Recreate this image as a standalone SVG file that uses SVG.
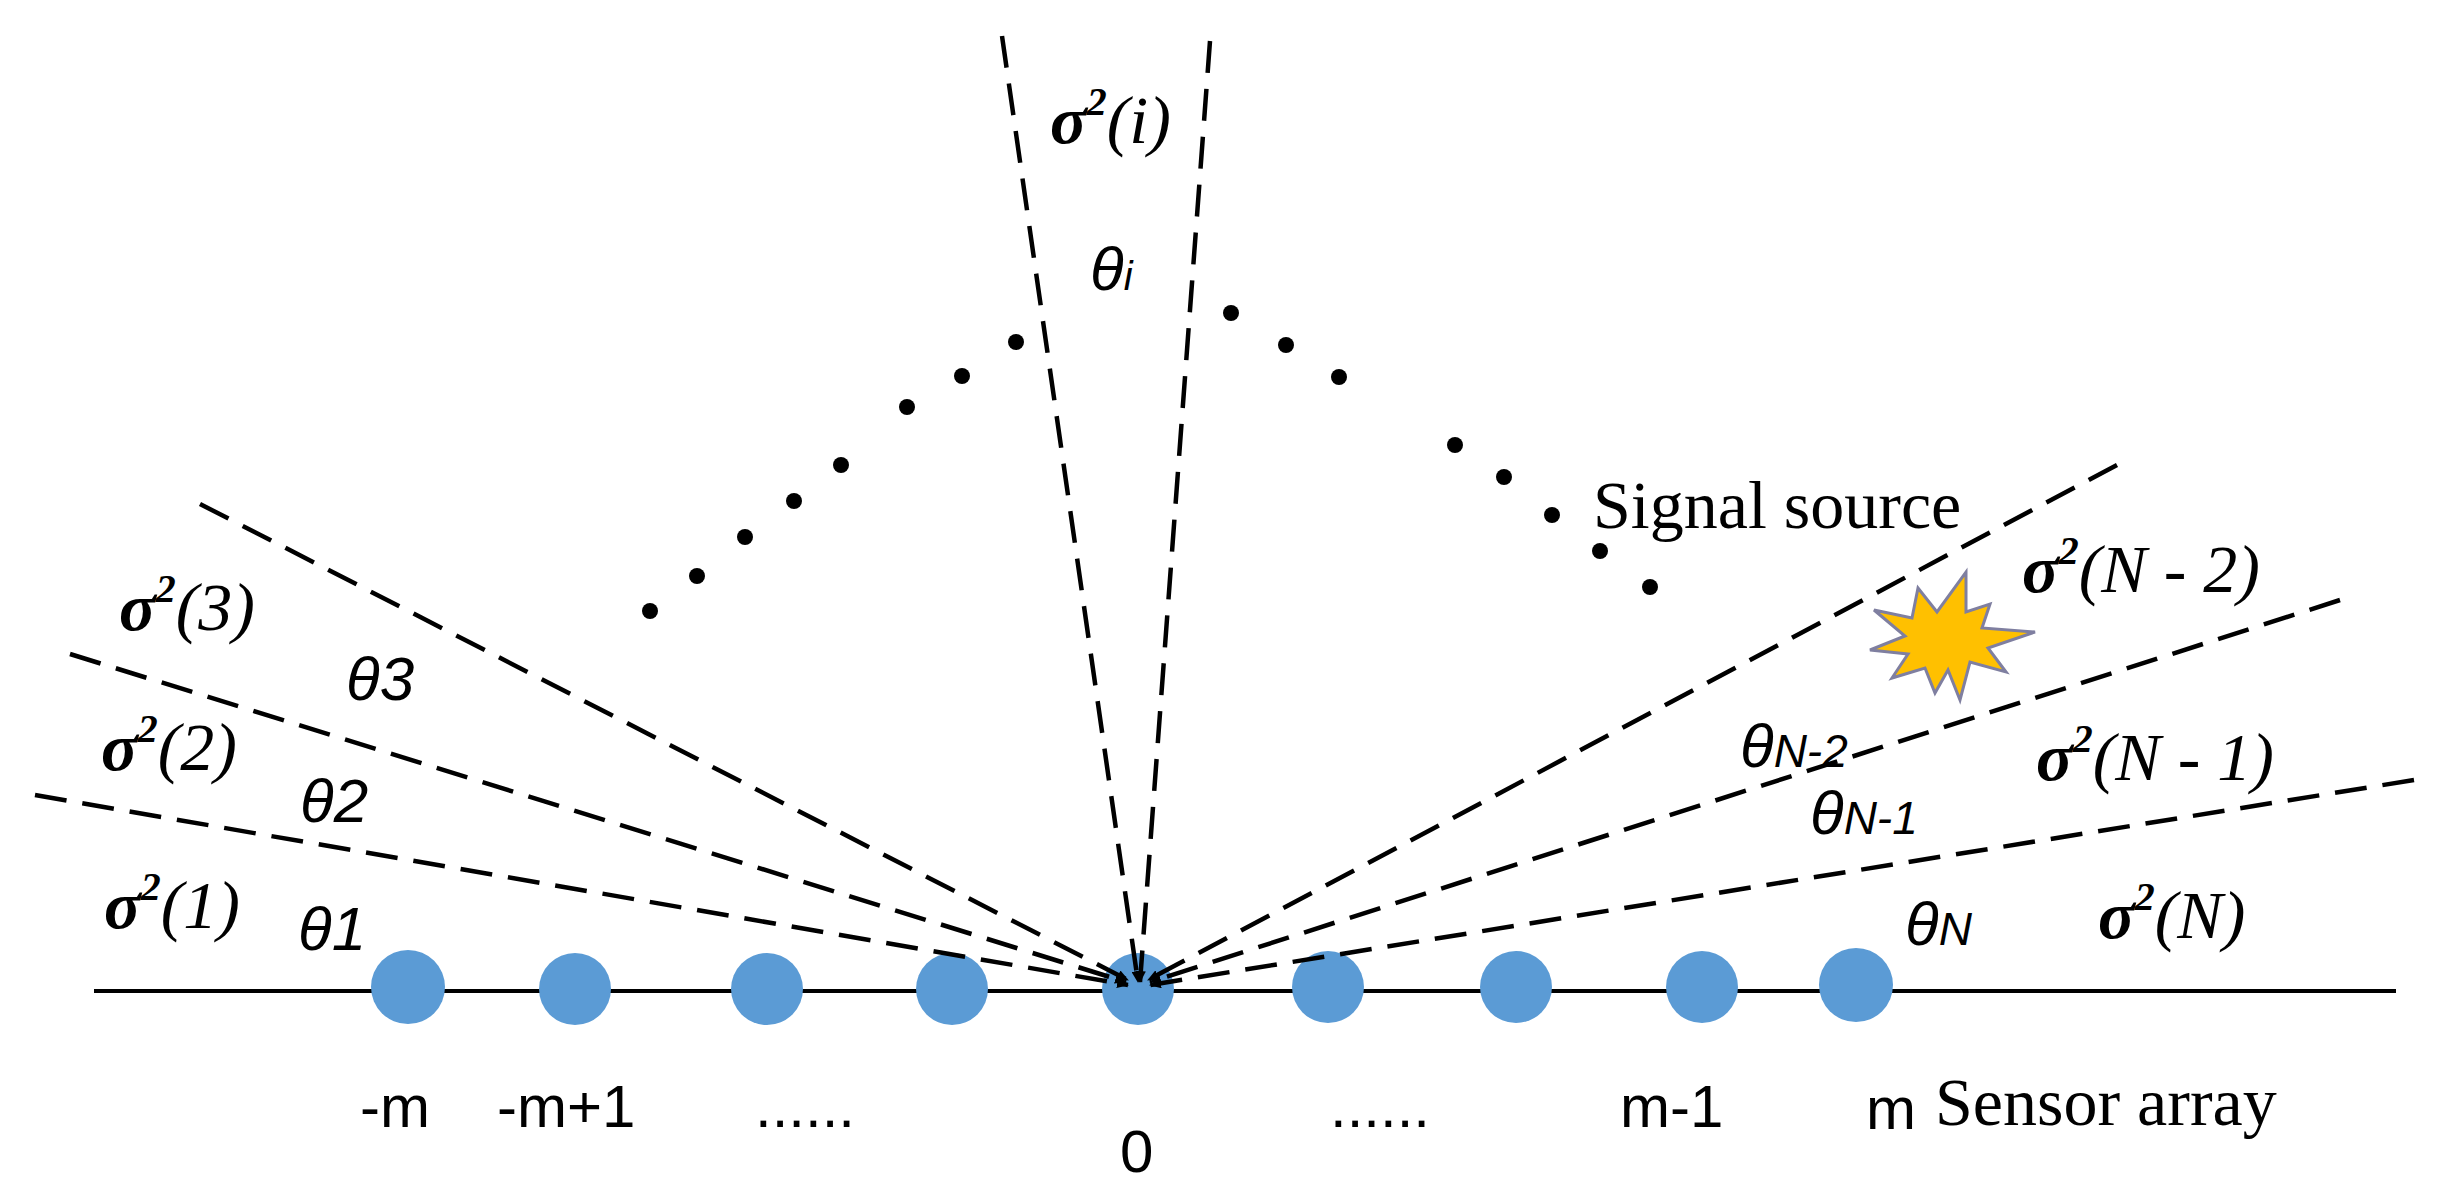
<svg xmlns="http://www.w3.org/2000/svg" width="2456" height="1183" viewBox="0 0 2456 1183">
<style>
.d{stroke:#000;stroke-width:4.5;stroke-dasharray:32 16;fill:none}
.s{font-family:"Liberation Serif",serif;font-size:68px;font-style:italic}
.sg{font-weight:bold}
.t{font-family:"Liberation Sans",sans-serif;font-size:62px;font-style:italic}
.l{font-family:"Liberation Sans",sans-serif;font-size:60px}
.r{font-family:"Liberation Serif",serif;font-size:68px}
</style>
<defs>
<marker id="a" markerWidth="12" markerHeight="10" refX="11" refY="5" orient="auto" markerUnits="userSpaceOnUse" viewBox="0 0 12 10"><path d="M0,0 L12,5 L0,10 z" fill="#000"/></marker>
</defs>
<rect width="2456" height="1183" fill="#fff"/>
<line x1="94" y1="991" x2="2396" y2="991" stroke="#000" stroke-width="4"/>
<g id="sensors" fill="#5B9BD5">
<ellipse cx="408" cy="987" rx="37" ry="37"/><ellipse cx="575" cy="989" rx="36" ry="36"/><ellipse cx="767" cy="989" rx="36" ry="36"/><ellipse cx="952" cy="989" rx="36" ry="36"/><ellipse cx="1138" cy="989" rx="36" ry="36"/><ellipse cx="1328" cy="987" rx="36" ry="36"/><ellipse cx="1516" cy="987" rx="36" ry="36"/><ellipse cx="1702" cy="987" rx="36" ry="36"/><ellipse cx="1856" cy="985" rx="37" ry="37"/>
</g>
<g id="connectors">
<path class="d" d="M35,795 L1128,985" marker-end="url(#a)"/>
<path class="d" d="M70,654 L1126,982" marker-end="url(#a)"/>
<path class="d" d="M200,504 L1128,980" marker-end="url(#a)"/>
<path class="d" d="M1002,36 L1138,982" marker-end="url(#a)"/>
<path class="d" d="M1210,41 L1140,982" marker-end="url(#a)"/>
<path class="d" d="M2117,465 L1148,980" marker-end="url(#a)"/>
<path class="d" d="M2340,600 L1150,982" marker-end="url(#a)"/>
<path class="d" d="M2414,780 L1150,985" marker-end="url(#a)"/>
</g>
<g id="dots" fill="#000">
<circle cx="650" cy="611" r="8"/><circle cx="697" cy="576" r="8"/><circle cx="745" cy="537" r="8"/><circle cx="794" cy="501" r="8"/><circle cx="841" cy="465" r="8"/><circle cx="907" cy="407" r="8"/><circle cx="962" cy="376" r="8"/><circle cx="1016" cy="342" r="8"/>
<circle cx="1231" cy="313" r="8"/><circle cx="1286" cy="345" r="8"/><circle cx="1339" cy="377" r="8"/><circle cx="1455" cy="445" r="8"/><circle cx="1504" cy="477" r="8"/><circle cx="1552" cy="515" r="8"/><circle cx="1600" cy="551" r="8"/><circle cx="1650" cy="587" r="8"/>
</g>
<g id="star"><polygon fill="#FFC000" stroke="#7F7FA0" stroke-width="3" points="1874,610 1912,618 1918,588 1937,612 1966,572 1966,612 1990,604 1982,628 2035,632 1988,648 2006,672 1970,662 1960,700 1948,670 1935,693 1925,668 1892,678 1908,654 1870,650 1905,636"/></g>
<g id="labels">
<text class="s" x="1050" y="143"><tspan class="sg">σ</tspan><tspan class="sg" font-size="40" dy="-28">2</tspan><tspan dy="28">(i)</tspan></text>
<text class="t" x="1090" y="290">θ<tspan font-size="40">i</tspan></text>
<text class="r" x="1593" y="528">Signal source</text>
<text class="s" x="119" y="630"><tspan class="sg">σ</tspan><tspan class="sg" font-size="40" dy="-28">2</tspan><tspan dy="28">(3)</tspan></text>
<text class="t" x="346" y="700">θ3</text>
<text class="s" x="101" y="770"><tspan class="sg">σ</tspan><tspan class="sg" font-size="40" dy="-28">2</tspan><tspan dy="28">(2)</tspan></text>
<text class="t" x="300" y="822">θ2</text>
<text class="s" x="104" y="928"><tspan class="sg">σ</tspan><tspan class="sg" font-size="40" dy="-28">2</tspan><tspan dy="28">(1)</tspan></text>
<text class="t" x="298" y="950">θ1</text>
<text class="s" x="2022" y="592"><tspan class="sg">σ</tspan><tspan class="sg" font-size="40" dy="-28">2</tspan><tspan dy="28">(N - 2)</tspan></text>
<text class="t" x="1740" y="767">θ<tspan font-size="46">N-2</tspan></text>
<text class="s" x="2036" y="780"><tspan class="sg">σ</tspan><tspan class="sg" font-size="40" dy="-28">2</tspan><tspan dy="28">(N - 1)</tspan></text>
<text class="t" x="1810" y="834">θ<tspan font-size="46">N-1</tspan></text>
<text class="s" x="2098" y="938"><tspan class="sg">σ</tspan><tspan class="sg" font-size="40" dy="-28">2</tspan><tspan dy="28">(N)</tspan></text>
<text class="t" x="1905" y="945">θ<tspan font-size="46">N</tspan></text>
<text class="l" x="360" y="1127">-m</text>
<text class="l" x="497" y="1127">-m+1</text>
<text class="l" x="755" y="1127">......</text>
<text class="l" x="1120" y="1172">0</text>
<text class="l" x="1330" y="1127">......</text>
<text class="l" x="1620" y="1127">m-1</text>
<text class="l" x="1866" y="1129" font-family="Liberation Mono,monospace">m</text>
<text class="r" x="1935" y="1125">Sensor array</text>
</g>
</svg>
